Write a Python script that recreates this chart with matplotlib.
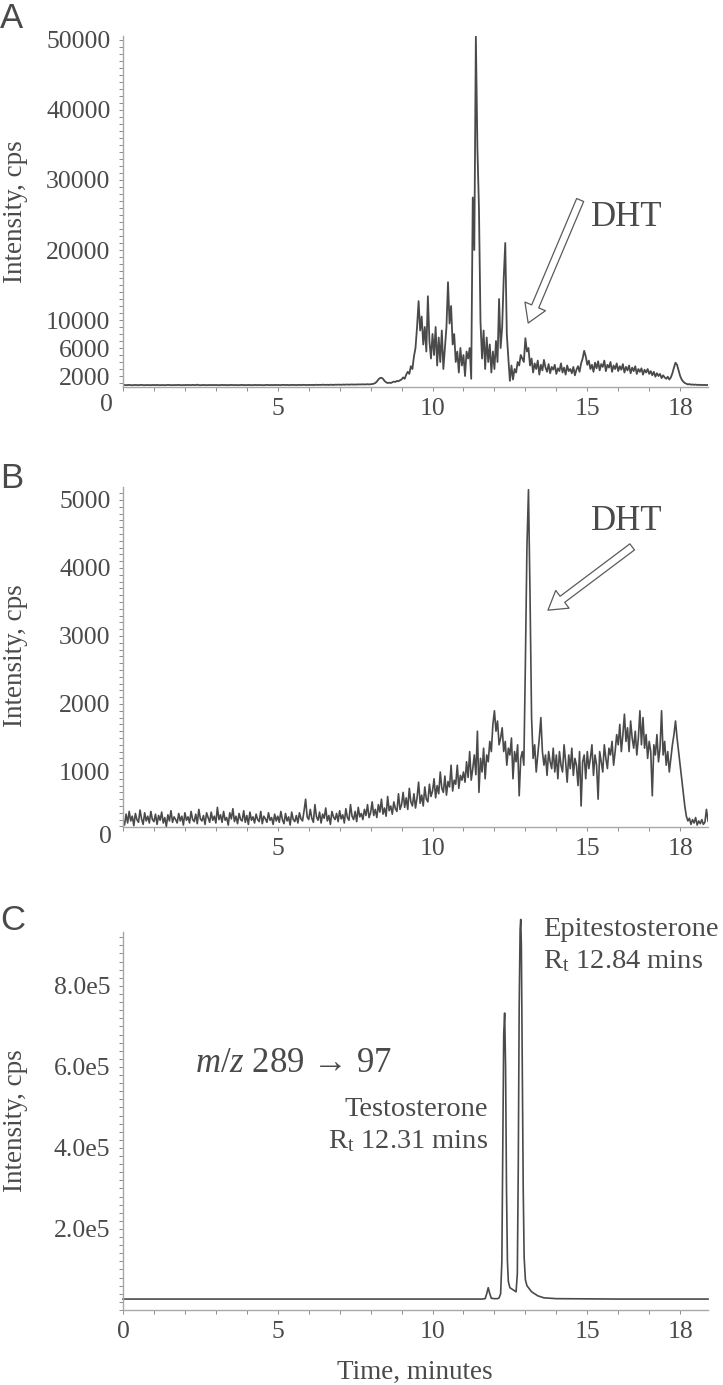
import numpy as np
import matplotlib
matplotlib.use('Agg')
import matplotlib.pyplot as plt
from matplotlib.ticker import MultipleLocator, FixedLocator

plt.rcParams['font.family'] = ['Liberation Serif', 'DejaVu Serif']
plt.rcParams['mathtext.fontset'] = 'custom'
plt.rcParams['mathtext.rm'] = 'Liberation Serif'
plt.rcParams['mathtext.it'] = 'Liberation Serif:italic'

# ---------------- data ----------------
STEP = 0.05  # sampling interval (min) for panels A and B

panelA_intensity = (
    [700,720,690,710,730,700,680,710,720,700,690,710,740,700,690,720,700,710,690,720] +
    [710,700,730,690,700,720,710,690,700,740,710,700,690,720,700,710,730,700,690,710] +
    [700,720,710,690,700,730,710,700,760,700,690,710,720,700,690,710,700,720,710,700] +
    [720,700,690,710,730,700,720,690,710,700,740,710,700,720,690,700,710,730,700,710] +
    [700,720,710,700,690,730,710,700,720,710,700,690,720,740,710,700,720,700,730,710] +
    [720,710,700,740,720,710,730,700,720,710,740,720,700,730,720,710,740,730,720,710] +
    [730,720,740,710,730,750,720,740,730,760,740,730,750,720,760,740,730,760,750,770] +
    [760,750,780,760,770,790,760,780,800,770,790,780,810,790,800,820,790,810,830,800] +
    [820,850,900,1000,1200,1500,1700,1750,1600,1300,1100,1000,1050,1000,1100,1200,1150,1300,1250,1400] +
    [1500,1800,1600,2200,2600,2300,3400,3000,4800,6000,9000,12700,8500,10500,6500,9000,5500,13400,7000,4500] +
    [8000,5000,9000,3500,7500,4000,8500,3000,6000,9000,15400,9500,12000,6500,8000,4000,5500,2500,6000,3500] +
    [5000,2000,5500,4500,6000,1600,27500,20000,50500,34500,26000,9700,4500,8500,3000,7500,4000,6500,2500,5500] +
    [3000,7000,4000,13000,6000,9000,16000,21000,8000,4500,1300,3500,1500,3000,2500,4000,3500,5000,4500,4000] +
    [7400,5500,6000,3500,4500,2500,3800,3000,4200,2200,3600,2800,4300,3200,2600,3700,2400,3300,2900,3600] +
    [2300,3100,2700,3800,2500,3200,2200,3500,2700,3000,2400,3300,2100,2900,3400,2600,3800,4500,5600,4800] +
    [3600,4200,3000,3600,2600,3900,3100,4100,2800,3700,3300,4200,2700,3600,3200,4000,2600,3500,3000,3800] +
    [2700,3400,2900,3700,2500,3300,2800,3500,2400,3200,2700,3400,2300,3000,2600,3100,2200,2900,2500,3000] +
    [2300,2700,2100,2600,1900,2400,2000,2300,1700,2100,1800,1600,1900,1500,1800,2400,3200,3900,3600,2800] +
    [2000,1500,1200,1000,900,800,850,760,800,740,780,720,760,700,740,710,730,700,720]
)

panelB_intensity = (
    [300,220,380,250,420,280,350,210,390,300,260,440,310,230,400,280,350,250,420,300] +
    [270,380,230,360,290,410,250,330,200,370,280,430,260,340,300,250,390,280,350,220] +
    [400,290,340,250,420,300,270,380,240,450,310,280,360,230,400,330,260,410,290,350] +
    [250,480,300,370,260,420,290,330,220,400,310,460,270,350,240,390,300,280,430,260] +
    [360,230,410,290,340,250,380,300,270,420,240,350,310,260,400,290,330,230,380,280] +
    [350,260,420,300,240,390,280,340,220,410,300,270,360,250,400,310,280,430,600,340] +
    [300,450,320,260,520,340,290,410,250,380,320,470,280,360,230,420,340,300,390,270] +
    [430,310,370,250,460,330,290,520,350,300,420,270,480,340,390,300,450,360,520,330] +
    [400,560,360,450,330,520,410,600,380,470,350,640,430,500,380,560,460,420,680,450] +
    [520,700,480,620,450,760,560,500,680,470,620,850,540,660,500,780,600,560,820,640] +
    [720,900,620,800,680,1000,760,700,940,660,860,780,1100,720,880,820,1100,760,950,880] +
    [1000,850,1150,920,1300,880,1050,1250,960,1600,700,1200,1000,1350,900,1250,1150,1450,1300,1700] +
    [1900,1600,1750,1400,1500,1650,1300,1450,1100,1350,1250,1500,900,1300,1150,1400,650,1200,1300,1100] +
    [2600,4300,5150,3600,1800,1200,1400,1000,1250,1500,1800,1300,1100,1250,950,1300,1150,1050,1350,1000] +
    [1250,900,1300,1100,1000,1400,1150,850,1250,1050,1350,950,1200,1100,800,1300,500,1150,1250,900] +
    [1300,1050,1200,1400,950,1250,1100,600,1300,1150,1000,1400,1200,1050,1350,1250,1450,1100,1300,1550] +
    [1400,1700,1300,1550,1850,1450,1650,1300,1750,1500,1350,1600,1250,1500,1900,1400,1800,1350,1550,1200] +
    [1450,1300,650,1400,1250,1550,1150,1350,1900,1250,1450,1100,1300,1000,1200,1400,1550,1750,1500,1300] +
    [1100,900,700,500,350,280,320,230,300,250,330,220,280,240,300,230,260,450,280]
)

panelC_time = [0, 2, 4, 6, 8, 10, 11, 11.6, 11.7, 11.75, 11.8, 11.85, 11.9, 12.0, 12.1, 12.15,
               12.2, 12.24, 12.27, 12.3, 12.33, 12.36, 12.39, 12.42, 12.45, 12.5, 12.6, 12.7,
               12.74, 12.77, 12.8, 12.83, 12.85, 12.87, 12.9, 12.93, 12.96, 13.0, 13.05, 13.1,
               13.2, 13.4, 13.6, 14, 15, 16, 17, 18, 18.9]
panelC_intensity = [27000, 27000, 27000, 27000, 27000, 27000, 27000, 27000, 28000, 40000, 55000,
                    40000, 29000, 28000, 28000, 30000, 40000, 120000, 400000, 680000, 733000,
                    600000, 300000, 120000, 70000, 55000, 50000, 45000, 90000, 350000, 750000,
                    940000, 964000, 900000, 600000, 300000, 130000, 75000, 60000, 55000, 45000,
                    35000, 30000, 28000, 27500, 27000, 27000, 27000, 27000]

yticksA = [2000, 6000, 10000, 20000, 30000, 40000, 50000]
yticksB = [1000, 2000, 3000, 4000, 5000]
yticksC = [2.0e5, 4.0e5, 6.0e5, 8.0e5]
yticklabelsC = ['2.0e5', '4.0e5', '6.0e5', '8.0e5']
xticksAB = [5, 10, 15, 18]
xticksC = [0, 5, 10, 15, 18]

timeA = np.arange(len(panelA_intensity)) * STEP
timeB = np.arange(len(panelB_intensity)) * STEP

# ---------------- figure ----------------
W, H = 723, 1385
fig = plt.figure(figsize=(W / 100, H / 100), dpi=100)
LINE = '#4a4a4a'
TXT = '#4a4a4a'
SPINE = '#a8a8a8'


def ax_at(x0, x1, ytop, ybot):
    return fig.add_axes([x0 / W, 1 - ybot / H, (x1 - x0) / W, (ybot - ytop) / H])


def ftext(x, y, s, **kw):
    kw.setdefault('color', TXT)
    fig.text(x / W, 1 - y / H, s, **kw)


def style(ax, yminor):
    for s in ['top', 'right']:
        ax.spines[s].set_visible(False)
    for s in ['left', 'bottom']:
        ax.spines[s].set_color(SPINE)
        ax.spines[s].set_linewidth(1.0)
    ax.xaxis.set_minor_locator(MultipleLocator(1))
    ax.yaxis.set_minor_locator(MultipleLocator(yminor))
    ax.tick_params(which='both', direction='out', color='#8c8c8c', width=0.7,
                   length=3, labelcolor=TXT, labelsize=18.5)
    ax.tick_params(axis='y', pad=6)
    ax.tick_params(axis='x', pad=5)
    ax.set_xlim(0, 18.9)


axA = ax_at(123, 708, 36, 387)
axB = ax_at(123, 708, 487, 827)
axC = ax_at(123, 708, 932, 1310)

axA.plot(timeA, panelA_intensity, color=LINE, lw=1.3)
axA.set_ylim(430, 50570)
axA.set_yticks(yticksA)
axA.set_yticklabels([str(v) for v in yticksA])
axA.set_xticks(xticksAB)
style(axA, 1000)

axB.plot(timeB, panelB_intensity, color=LINE, lw=1.2)
axB.set_ylim(191, 5191)
axB.set_yticks(yticksB)
axB.set_yticklabels([str(v) for v in yticksB])
axB.set_xticks(xticksAB)
style(axB, 100)

axC.plot(panelC_time, panelC_intensity, color=LINE, lw=1.2, clip_on=False)
axC.set_ylim(0, 9.33e5)
axC.set_yticks(yticksC)
axC.set_yticklabels(yticklabelsC)
axC.set_xticks(xticksC)
style(axC, 2e4)

# arrows
arrow_kw = dict(arrowstyle='simple,head_length=1.3,head_width=1.6,tail_width=0.55',
                fc='white', ec='#5a5a5a', lw=0.9, shrinkA=0, shrinkB=0, mutation_scale=10)
axA.annotate('', xy=(13.09, 9570), xytext=(14.77, 27140), arrowprops=arrow_kw)
axB.annotate('', xy=(13.73, 3380), xytext=(16.45, 4310), arrowprops=arrow_kw)

# texts
sans = ['Liberation Sans', 'DejaVu Sans']
ftext(0, 18, 'A', family=sans, fontsize=25, ha='left', va='center')
ftext(0, 478, 'B', family=sans, fontsize=25, ha='left', va='center')
ftext(0, 920, 'C', family=sans, fontsize=25, ha='left', va='center')

for yc in (212, 656, 1121):
    ftext(16, yc, 'Intensity, cps', fontsize=19.5, rotation=90, ha='center', va='center')

ftext(106, 405, '0', fontsize=18.5, ha='center', va='center')
ftext(105, 837, '0', fontsize=18.5, ha='center', va='center')

ftext(627, 218, 'DHT', fontsize=25, ha='center', va='center')
ftext(627, 522, 'DHT', fontsize=25, ha='center', va='center')

ftext(543, 930, 'Epitestosterone', fontsize=20.5, ha='left', va='center')
ftext(543, 961, r'R$_{\mathrm{t}}$ 12.84 mins', fontsize=20.5, ha='left', va='center')
ftext(488, 1110, 'Testosterone', fontsize=20.5, ha='right', va='center')
ftext(488, 1141, r'R$_{\mathrm{t}}$ 12.31 mins', fontsize=20.5, ha='right', va='center')
ftext(195, 1063, r'$m/z$ 289 → 97', fontsize=25, ha='left', va='center')
ftext(415, 1372, 'Time, minutes', fontsize=19.5, ha='center', va='center')

fig.savefig('out.png', dpi=100)
